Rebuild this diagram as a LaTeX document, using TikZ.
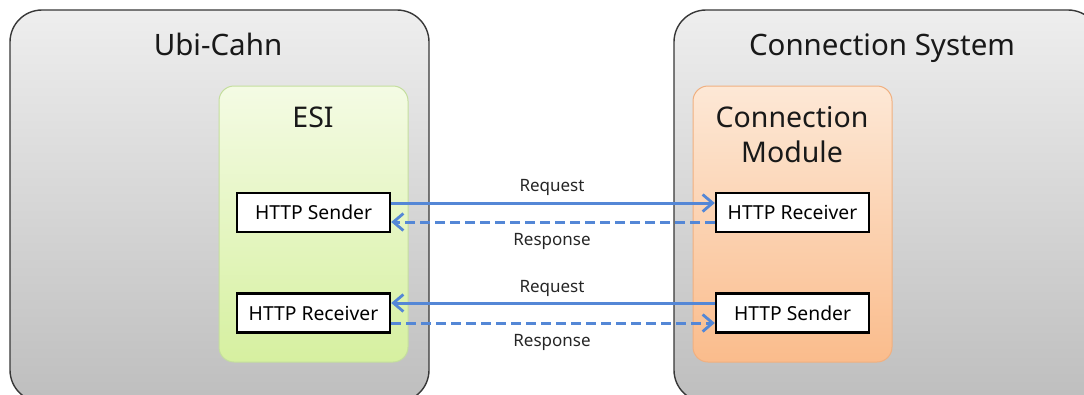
\documentclass[tikz,border=0pt]{standalone}
\usepackage{fontspec}
\setmainfont{Noto Sans}
\usetikzlibrary{arrows.meta}

\definecolor{framegray}{RGB}{55,55,55}
\definecolor{outertop}{RGB}{238,238,238}
\definecolor{outerbot}{RGB}{190,190,190}
\definecolor{greentop}{RGB}{244,251,228}
\definecolor{greenbot}{RGB}{214,240,160}
\definecolor{greenline}{RGB}{196,222,158}
\definecolor{orangetop}{RGB}{253,232,214}
\definecolor{orangebot}{RGB}{250,188,140}
\definecolor{orangeline}{RGB}{240,176,128}
\definecolor{linkblue}{RGB}{84,135,214}

\tikzset{
  outerbox/.style={draw=framegray, line width=1.4pt, rounded corners=32pt,
                   top color=outertop, bottom color=outerbot},
  esibox/.style={draw=greenline, line width=1pt, rounded corners=15pt,
                 top color=greentop, bottom color=greenbot},
  modbox/.style={draw=orangeline, line width=1pt, rounded corners=15pt,
                 top color=orangetop, bottom color=orangebot},
  title/.style={font=\fontsize{29.5}{34}\selectfont, text=black!90, inner sep=0pt, anchor=base},
  subtitle/.style={font=\fontsize{28.5}{35}\selectfont, text=black!90, inner sep=0pt, align=center},
  httpbox/.style={draw=black, line width=2.4pt, fill=white, minimum width=153pt,
                  minimum height=39pt, inner sep=0pt,
                  font=\fontsize{19.3}{22}\selectfont},
  msg/.style={font=\fontsize{17}{20}\selectfont, text=black!85, inner sep=0pt},
  link/.style={draw=linkblue, line width=3pt,
               -{Straight Barb[length=10pt,width=17pt,line width=2.8pt]}},
  linkback/.style={link, dash pattern=on 10pt off 5pt}
}

\begin{document}
\begin{tikzpicture}[x=1pt,y=-1pt]
\clip (0,0) rectangle (1084,394);
\useasboundingbox (0,0) rectangle (1084,394);

% two systems
\path[outerbox] (10,10) rectangle (429,402);
\path[outerbox] (674,10) rectangle (1100,402);
\node[title] (ubi) at (218,55) {Ubi-Cahn};
\node[title] (csys) at (882,55) {Connection System};

% modules inside each system
\path[esibox] (219,86) rectangle (408,362);
\path[modbox] (693,86) rectangle (892,362);
\node[subtitle, anchor=base] (esi) at (313,127) {ESI};
\node[subtitle] (cmod) at (792,135) {Connection\\Module};

% HTTP endpoints
\node[httpbox] (ls) at (313.5,212.5) {HTTP Sender};
\node[httpbox] (lr) at (313.5,313) {HTTP Receiver};
\node[httpbox] (rr) at (792.5,212.5) {HTTP Receiver};
\node[httpbox] (rs) at (792.5,313) {HTTP Sender};

% request / response links
\draw[link] ([yshift=9.5pt]ls.east) -- ([yshift=9.5pt]rr.west);
\draw[linkback] ([yshift=-9.5pt]rr.west) -- ([yshift=-9.5pt]ls.east);
\draw[link] ([yshift=10pt]rs.west) -- ([yshift=10pt]lr.east);
\draw[linkback] ([yshift=-10pt]lr.east) -- ([yshift=-10pt]rs.west);

\node[msg] (req1) at (552,187) {Request};
\node[msg] (res1) at (552,241) {Response};
\node[msg] (req2) at (552,288) {Request};
\node[msg] (res2) at (552,342) {Response};
\end{tikzpicture}
\end{document}
